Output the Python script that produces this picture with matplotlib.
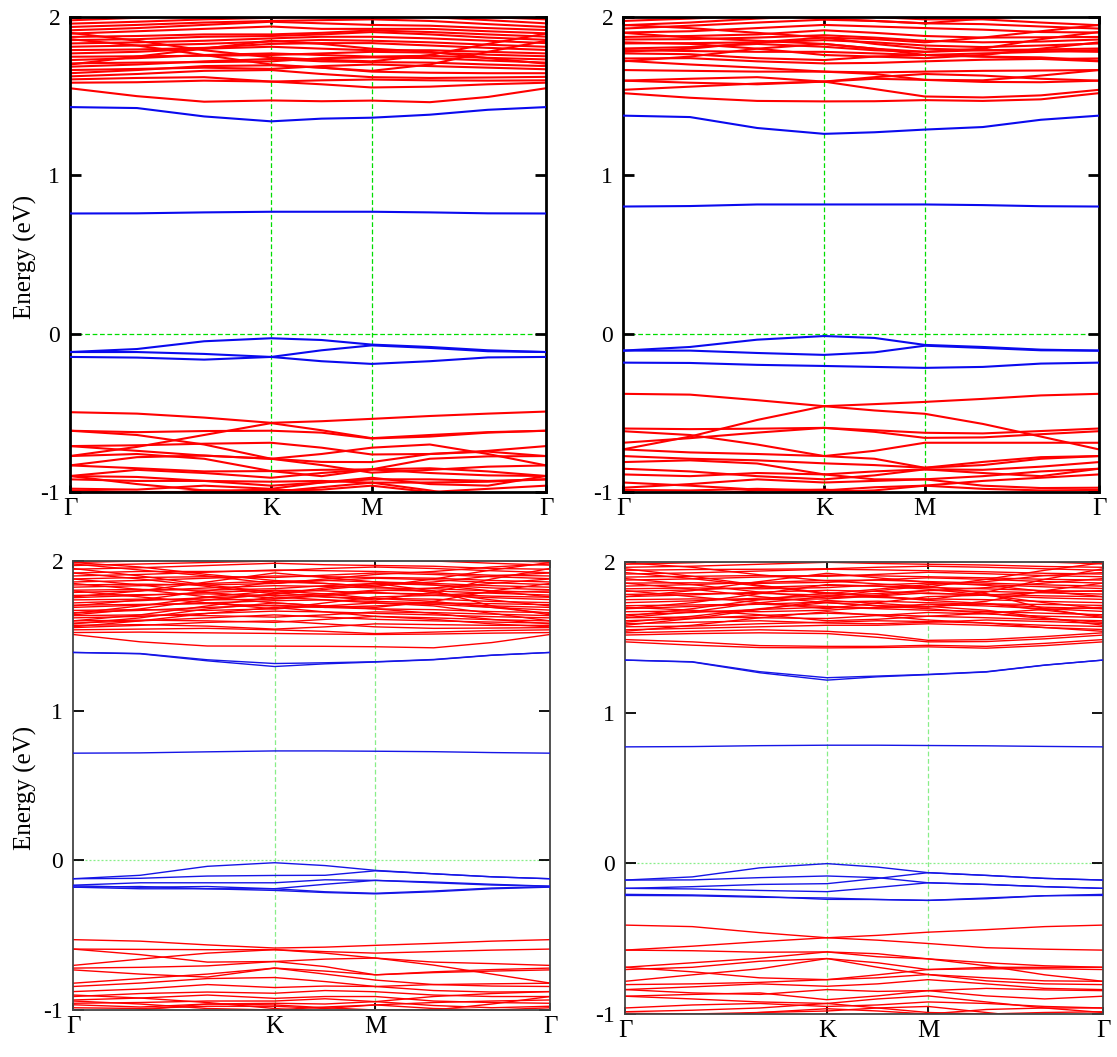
"""Band structures of four configurations along Γ-K-M-Γ (2x2 panels)."""
import matplotlib
matplotlib.use("Agg")
import matplotlib.pyplot as plt

# k-path sampling: Γ, 1/3 ΓK, 2/3 ΓK, K, 1/2 KM, M, 1/3 MΓ, 2/3 MΓ, Γ
K_PATH = [0.0, 0.444, 0.889, 1.333, 1.667, 2.0, 2.385, 2.770, 3.155]
HSYM_POS = [0.0, 1.333, 2.0, 3.155]
HSYM_LAB = ["Γ", "K", "M", "Γ"]
YTICKS = [-1, 0, 1, 2]

# ---------------- panel (a) top-left ----------------
TL_BLUE = [
    [1.431, 1.425, 1.372, 1.341, 1.358, 1.364, 1.383, 1.414, 1.431],
    [0.759, 0.760, 0.766, 0.770, 0.770, 0.770, 0.766, 0.760, 0.759],
    [-0.116, -0.097, -0.048, -0.029, -0.040, -0.069, -0.084, -0.105, -0.116],
    [-0.116, -0.116, -0.128, -0.147, -0.105, -0.074, -0.090, -0.111, -0.116],
    [-0.147, -0.151, -0.164, -0.147, -0.174, -0.191, -0.174, -0.150, -0.147],
]
TL_RED = [
    [1.550, 1.500, 1.465, 1.473, 1.468, 1.472, 1.462, 1.495, 1.550],
    [1.585, 1.588, 1.598, 1.592, 1.575, 1.555, 1.560, 1.575, 1.585],
    [1.606, 1.615, 1.620, 1.592, 1.600, 1.605, 1.600, 1.598, 1.600],
    [1.625, 1.640, 1.660, 1.665, 1.640, 1.620, 1.615, 1.618, 1.622],
    [1.645, 1.665, 1.690, 1.695, 1.680, 1.655, 1.648, 1.645, 1.645],
    [1.665, 1.672, 1.680, 1.672, 1.690, 1.700, 1.690, 1.680, 1.670],
    [1.686, 1.700, 1.720, 1.735, 1.720, 1.715, 1.712, 1.700, 1.690],
    [1.707, 1.712, 1.715, 1.720, 1.740, 1.745, 1.740, 1.725, 1.712],
    [1.728, 1.740, 1.760, 1.770, 1.760, 1.750, 1.755, 1.742, 1.732],
    [1.749, 1.752, 1.755, 1.760, 1.770, 1.780, 1.775, 1.762, 1.752],
    [1.770, 1.780, 1.800, 1.812, 1.800, 1.790, 1.790, 1.780, 1.770],
    [1.791, 1.795, 1.805, 1.830, 1.835, 1.835, 1.820, 1.805, 1.792],
    [1.812, 1.820, 1.830, 1.845, 1.855, 1.850, 1.840, 1.825, 1.812],
    [1.833, 1.840, 1.850, 1.865, 1.875, 1.875, 1.865, 1.850, 1.835],
    [1.854, 1.860, 1.875, 1.880, 1.890, 1.905, 1.890, 1.870, 1.856],
    [1.874, 1.880, 1.890, 1.890, 1.900, 1.915, 1.905, 1.890, 1.876],
    [1.895, 1.910, 1.925, 1.940, 1.925, 1.925, 1.925, 1.910, 1.897],
    [1.916, 1.930, 1.950, 1.970, 1.960, 1.950, 1.945, 1.930, 1.918],
    [1.937, 1.950, 1.965, 1.975, 1.980, 1.985, 1.975, 1.955, 1.937],
    [1.958, 1.970, 1.985, 1.995, 2.005, 2.010, 2.000, 1.980, 1.960],
    [1.979, 1.995, 2.010, 2.020, 2.020, 2.030, 2.020, 2.000, 1.985],
    [1.900, 1.850, 1.790, 1.745, 1.730, 1.720, 1.760, 1.830, 1.895],
    [1.860, 1.820, 1.760, 1.700, 1.680, 1.660, 1.700, 1.780, 1.850],
    [1.700, 1.750, 1.800, 1.850, 1.830, 1.800, 1.780, 1.740, 1.705],
    # valence side
    [-0.496, -0.505, -0.530, -0.563, -0.553, -0.538, -0.520, -0.505, -0.492],
    [-0.773, -0.715, -0.640, -0.565, -0.610, -0.660, -0.640, -0.622, -0.613],
    [-0.613, -0.622, -0.615, -0.613, -0.625, -0.662, -0.650, -0.625, -0.613],
    [-0.613, -0.640, -0.700, -0.790, -0.760, -0.720, -0.700, -0.760, -0.832],
    [-0.710, -0.705, -0.695, -0.689, -0.720, -0.763, -0.760, -0.740, -0.710],
    [-0.710, -0.740, -0.770, -0.790, -0.810, -0.811, -0.760, -0.745, -0.773],
    [-0.773, -0.760, -0.790, -0.868, -0.860, -0.857, -0.790, -0.775, -0.773],
    [-0.832, -0.780, -0.770, -0.790, -0.830, -0.878, -0.860, -0.840, -0.832],
    [-0.832, -0.850, -0.870, -0.868, -0.900, -0.857, -0.880, -0.895, -0.899],
    [-0.899, -0.860, -0.880, -0.910, -0.880, -0.857, -0.850, -0.870, -0.899],
    [-0.899, -0.905, -0.930, -0.960, -0.940, -0.920, -0.920, -0.930, -0.920],
    [-0.899, -0.950, -0.990, -1.000, -0.970, -0.941, -0.990, -1.050, -1.000],
    [-0.920, -0.930, -0.930, -0.935, -0.930, -0.941, -0.940, -0.935, -0.920],
    [-0.979, -0.985, -0.960, -0.980, -0.940, -0.910, -0.950, -0.960, -0.899],
    [-0.990, -1.000, -1.000, -0.983, -1.000, -1.020, -1.000, -0.980, -0.960],
    [-1.050, -1.020, -0.990, -0.990, -0.985, -0.960, -1.000, -1.050, -1.060],
]

# ---------------- panel (b) top-right ----------------
TR_BLUE = [
    [1.377, 1.368, 1.299, 1.262, 1.272, 1.289, 1.305, 1.351, 1.377],
    [0.803, 0.806, 0.816, 0.816, 0.816, 0.816, 0.812, 0.805, 0.803],
    [-0.107, -0.084, -0.038, -0.015, -0.027, -0.071, -0.084, -0.101, -0.107],
    [-0.107, -0.107, -0.122, -0.134, -0.118, -0.076, -0.090, -0.105, -0.107],
    [-0.183, -0.185, -0.197, -0.204, -0.210, -0.216, -0.210, -0.189, -0.183],
]
TR_RED = [
    [1.519, 1.490, 1.470, 1.467, 1.468, 1.475, 1.470, 1.480, 1.519],
    [1.540, 1.560, 1.580, 1.592, 1.545, 1.498, 1.492, 1.505, 1.540],
    [1.598, 1.610, 1.620, 1.592, 1.620, 1.640, 1.630, 1.610, 1.598],
    [1.598, 1.585, 1.575, 1.592, 1.610, 1.603, 1.590, 1.588, 1.598],
    [1.665, 1.660, 1.655, 1.655, 1.650, 1.655, 1.660, 1.662, 1.665],
    [1.724, 1.700, 1.680, 1.655, 1.640, 1.603, 1.600, 1.630, 1.665],
    [1.738, 1.740, 1.720, 1.707, 1.710, 1.720, 1.730, 1.735, 1.738],
    [1.770, 1.765, 1.740, 1.728, 1.750, 1.760, 1.750, 1.745, 1.724],
    [1.791, 1.785, 1.780, 1.780, 1.770, 1.760, 1.770, 1.780, 1.791],
    [1.801, 1.810, 1.830, 1.812, 1.790, 1.780, 1.790, 1.795, 1.801],
    [1.833, 1.835, 1.840, 1.854, 1.840, 1.820, 1.810, 1.820, 1.833],
    [1.858, 1.860, 1.870, 1.885, 1.870, 1.850, 1.840, 1.845, 1.858],
    [1.874, 1.880, 1.890, 1.916, 1.900, 1.880, 1.870, 1.872, 1.874],
    [1.902, 1.910, 1.930, 1.950, 1.940, 1.930, 1.920, 1.905, 1.902],
    [1.927, 1.945, 1.965, 1.983, 1.975, 1.960, 1.955, 1.940, 1.927],
    [1.948, 1.965, 1.990, 2.010, 2.000, 1.985, 1.985, 1.965, 1.948],
    [1.780, 1.800, 1.840, 1.870, 1.830, 1.800, 1.790, 1.785, 1.780],
    [1.720, 1.750, 1.800, 1.830, 1.800, 1.760, 1.750, 1.735, 1.720],
    [1.900, 1.870, 1.850, 1.830, 1.800, 1.780, 1.800, 1.860, 1.905],
    [1.950, 1.930, 1.900, 1.870, 1.860, 1.840, 1.870, 1.910, 1.950],
    [1.975, 1.990, 2.010, 1.990, 1.975, 1.960, 1.990, 2.010, 2.000],
    [1.840, 1.830, 1.800, 1.760, 1.750, 1.740, 1.760, 1.800, 1.840],
    # valence side
    [-0.380, -0.385, -0.420, -0.458, -0.445, -0.431, -0.412, -0.390, -0.380],
    [-0.731, -0.650, -0.545, -0.458, -0.485, -0.506, -0.570, -0.650, -0.731],
    [-0.599, -0.603, -0.600, -0.595, -0.610, -0.626, -0.630, -0.615, -0.599],
    [-0.616, -0.640, -0.700, -0.773, -0.740, -0.689, -0.689, -0.689, -0.689],
    [-0.689, -0.660, -0.625, -0.595, -0.620, -0.658, -0.655, -0.635, -0.616],
    [-0.731, -0.750, -0.760, -0.773, -0.790, -0.847, -0.830, -0.790, -0.773],
    [-0.773, -0.790, -0.800, -0.819, -0.830, -0.847, -0.810, -0.780, -0.773],
    [-0.811, -0.800, -0.820, -0.889, -0.870, -0.857, -0.860, -0.840, -0.811],
    [-0.853, -0.870, -0.900, -0.920, -0.895, -0.857, -0.880, -0.900, -0.853],
    [-0.889, -0.900, -0.880, -0.889, -0.920, -0.920, -0.960, -0.975, -0.973],
    [-0.973, -0.950, -0.920, -0.940, -0.930, -0.920, -0.900, -0.870, -0.853],
    [-0.987, -0.990, -0.980, -0.990, -0.970, -0.960, -0.980, -0.990, -0.987],
    [-1.050, -1.020, -0.990, -0.985, -1.000, -1.030, -1.060, -1.050, -1.040],
    [-0.940, -0.960, -0.985, -1.000, -0.990, -0.960, -0.930, -0.910, -0.889],
]

# ---------------- panel (c) bottom-left ----------------
BL_BLUE = [
    [1.389, 1.382, 1.340, 1.315, 1.320, 1.327, 1.342, 1.371, 1.389],
    [1.389, 1.380, 1.333, 1.295, 1.313, 1.325, 1.340, 1.370, 1.389],
    [0.716, 0.718, 0.725, 0.731, 0.731, 0.729, 0.726, 0.720, 0.716],
    [-0.123, -0.100, -0.040, -0.016, -0.035, -0.067, -0.090, -0.110, -0.123],
    [-0.123, -0.120, -0.105, -0.101, -0.100, -0.070, -0.090, -0.110, -0.123],
    [-0.166, -0.150, -0.150, -0.150, -0.130, -0.134, -0.145, -0.160, -0.173],
    [-0.170, -0.180, -0.175, -0.190, -0.160, -0.134, -0.150, -0.165, -0.173],
    [-0.179, -0.190, -0.190, -0.201, -0.215, -0.224, -0.210, -0.190, -0.179],
    [-0.179, -0.175, -0.190, -0.190, -0.210, -0.220, -0.205, -0.185, -0.176],
]
BL_RED = [
    [1.509, 1.460, 1.432, 1.431, 1.430, 1.427, 1.420, 1.455, 1.509],
    [1.522, 1.525, 1.520, 1.516, 1.512, 1.509, 1.512, 1.518, 1.522],
    [1.540, 1.545, 1.550, 1.540, 1.530, 1.515, 1.525, 1.535, 1.540],
    [1.555, 1.570, 1.590, 1.600, 1.580, 1.560, 1.550, 1.552, 1.555],
    [1.570, 1.575, 1.565, 1.545, 1.560, 1.580, 1.575, 1.570, 1.570],
    [1.585, 1.600, 1.620, 1.640, 1.625, 1.610, 1.600, 1.592, 1.585],
    [1.600, 1.605, 1.600, 1.590, 1.610, 1.630, 1.620, 1.608, 1.600],
    [1.620, 1.630, 1.650, 1.665, 1.660, 1.650, 1.640, 1.628, 1.620],
    [1.635, 1.640, 1.635, 1.625, 1.640, 1.660, 1.655, 1.645, 1.635],
    [1.655, 1.670, 1.690, 1.705, 1.690, 1.680, 1.675, 1.662, 1.655],
    [1.670, 1.675, 1.670, 1.680, 1.700, 1.720, 1.710, 1.690, 1.672],
    [1.690, 1.705, 1.720, 1.735, 1.740, 1.730, 1.720, 1.700, 1.690],
    [1.705, 1.710, 1.715, 1.700, 1.690, 1.700, 1.720, 1.715, 1.708],
    [1.720, 1.735, 1.755, 1.770, 1.760, 1.750, 1.745, 1.730, 1.722],
    [1.740, 1.745, 1.740, 1.745, 1.770, 1.790, 1.770, 1.755, 1.742],
    [1.755, 1.770, 1.790, 1.805, 1.800, 1.785, 1.780, 1.765, 1.758],
    [1.770, 1.775, 1.780, 1.770, 1.780, 1.805, 1.800, 1.785, 1.772],
    [1.790, 1.800, 1.820, 1.835, 1.830, 1.820, 1.815, 1.800, 1.790],
    [1.805, 1.810, 1.805, 1.815, 1.835, 1.850, 1.840, 1.820, 1.808],
    [1.825, 1.835, 1.850, 1.865, 1.870, 1.860, 1.850, 1.835, 1.825],
    [1.840, 1.845, 1.840, 1.850, 1.870, 1.885, 1.875, 1.855, 1.842],
    [1.860, 1.870, 1.885, 1.900, 1.895, 1.890, 1.885, 1.870, 1.860],
    [1.880, 1.890, 1.895, 1.890, 1.905, 1.920, 1.910, 1.895, 1.882],
    [1.900, 1.910, 1.925, 1.940, 1.935, 1.930, 1.920, 1.905, 1.900],
    [1.920, 1.930, 1.930, 1.935, 1.950, 1.960, 1.950, 1.935, 1.922],
    [1.945, 1.955, 1.970, 1.985, 1.975, 1.970, 1.965, 1.950, 1.945],
    [1.970, 1.980, 1.990, 2.000, 2.010, 2.010, 2.000, 1.985, 1.972],
    [1.990, 2.000, 2.020, 2.030, 2.020, 2.030, 2.020, 2.005, 1.992],
    [1.850, 1.810, 1.760, 1.720, 1.700, 1.690, 1.730, 1.800, 1.850],
    [1.650, 1.700, 1.760, 1.800, 1.780, 1.750, 1.730, 1.690, 1.650],
    [1.950, 1.900, 1.840, 1.790, 1.760, 1.740, 1.790, 1.880, 1.950],
    [1.580, 1.620, 1.680, 1.720, 1.700, 1.680, 1.650, 1.610, 1.580],
    [1.760, 1.800, 1.860, 1.920, 1.890, 1.860, 1.840, 1.800, 1.760],
    [1.990, 1.960, 1.910, 1.870, 1.850, 1.830, 1.880, 1.940, 1.990],
    [1.600, 1.640, 1.700, 1.760, 1.740, 1.720, 1.700, 1.650, 1.600],
    [1.880, 1.840, 1.790, 1.750, 1.770, 1.800, 1.820, 1.850, 1.880],
    [1.700, 1.740, 1.800, 1.860, 1.850, 1.830, 1.790, 1.740, 1.700],
    [1.920, 1.880, 1.830, 1.780, 1.810, 1.840, 1.860, 1.900, 1.920],
    [1.560, 1.600, 1.650, 1.690, 1.660, 1.630, 1.610, 1.580, 1.560],
    [1.800, 1.760, 1.720, 1.680, 1.720, 1.760, 1.770, 1.790, 1.800],
    [1.640, 1.680, 1.740, 1.780, 1.820, 1.850, 1.800, 1.700, 1.640],
    [1.980, 1.940, 1.900, 1.850, 1.880, 1.910, 1.930, 1.960, 1.980],
    # valence side
    [-0.530, -0.540, -0.565, -0.586, -0.580, -0.568, -0.555, -0.540, -0.530],
    [-0.593, -0.595, -0.597, -0.597, -0.610, -0.620, -0.610, -0.600, -0.593],
    [-0.702, -0.660, -0.620, -0.597, -0.620, -0.653, -0.680, -0.690, -0.702],
    [-0.593, -0.630, -0.680, -0.676, -0.660, -0.653, -0.700, -0.760, -0.820],
    [-0.720, -0.715, -0.705, -0.676, -0.710, -0.765, -0.745, -0.730, -0.720],
    [-0.732, -0.760, -0.780, -0.720, -0.740, -0.765, -0.750, -0.740, -0.732],
    [-0.821, -0.790, -0.760, -0.720, -0.760, -0.800, -0.830, -0.840, -0.843],
    [-0.843, -0.820, -0.790, -0.783, -0.810, -0.843, -0.830, -0.825, -0.821],
    [-0.877, -0.860, -0.830, -0.850, -0.840, -0.843, -0.870, -0.880, -0.877],
    [-0.910, -0.890, -0.880, -0.888, -0.870, -0.878, -0.900, -0.910, -0.910],
    [-0.933, -0.920, -0.900, -0.922, -0.910, -0.910, -0.940, -0.950, -0.955],
    [-0.955, -0.950, -0.940, -0.940, -0.925, -0.944, -0.910, -0.890, -0.877],
    [-0.965, -0.980, -0.960, -0.955, -0.960, -0.944, -0.970, -0.985, -0.975],
    [-0.985, -0.990, -0.975, -0.975, -0.990, -0.966, -0.990, -1.000, -0.985],
    [-1.050, -1.000, -0.960, -0.966, -0.985, -1.000, -1.000, -1.030, -1.050],
    [-0.940, -0.960, -0.990, -1.000, -0.980, -0.966, -0.950, -0.940, -0.933],
    [-0.900, -0.920, -0.950, -0.990, -1.010, -1.020, -1.000, -0.960, -0.910],
]

# ---------------- panel (d) bottom-right ----------------
BR_BLUE = [
    [1.349, 1.338, 1.272, 1.232, 1.243, 1.254, 1.272, 1.316, 1.349],
    [1.349, 1.336, 1.265, 1.216, 1.238, 1.252, 1.270, 1.315, 1.349],
    [0.773, 0.775, 0.781, 0.784, 0.784, 0.782, 0.780, 0.776, 0.773],
    [-0.111, -0.090, -0.030, -0.002, -0.025, -0.062, -0.080, -0.100, -0.111],
    [-0.111, -0.110, -0.095, -0.084, -0.095, -0.129, -0.140, -0.155, -0.166],
    [-0.166, -0.155, -0.140, -0.135, -0.100, -0.062, -0.080, -0.100, -0.111],
    [-0.166, -0.170, -0.180, -0.188, -0.160, -0.129, -0.140, -0.155, -0.166],
    [-0.206, -0.210, -0.220, -0.239, -0.240, -0.246, -0.235, -0.215, -0.206],
    [-0.213, -0.215, -0.225, -0.230, -0.240, -0.246, -0.230, -0.215, -0.213],
]
BR_RED = [
    [1.470, 1.448, 1.432, 1.430, 1.432, 1.437, 1.428, 1.445, 1.470],
    [1.485, 1.470, 1.445, 1.440, 1.440, 1.447, 1.440, 1.460, 1.485],
    [1.515, 1.525, 1.530, 1.525, 1.500, 1.470, 1.472, 1.490, 1.515],
    [1.530, 1.540, 1.550, 1.540, 1.520, 1.480, 1.485, 1.505, 1.530],
    [1.550, 1.560, 1.570, 1.580, 1.580, 1.590, 1.580, 1.565, 1.552],
    [1.570, 1.575, 1.590, 1.600, 1.610, 1.605, 1.595, 1.580, 1.572],
    [1.590, 1.600, 1.610, 1.595, 1.590, 1.600, 1.615, 1.605, 1.592],
    [1.610, 1.625, 1.645, 1.660, 1.650, 1.640, 1.630, 1.618, 1.610],
    [1.630, 1.635, 1.630, 1.625, 1.645, 1.665, 1.655, 1.640, 1.632],
    [1.650, 1.665, 1.685, 1.700, 1.690, 1.680, 1.672, 1.660, 1.650],
    [1.670, 1.675, 1.670, 1.680, 1.700, 1.720, 1.708, 1.690, 1.672],
    [1.690, 1.705, 1.720, 1.735, 1.740, 1.730, 1.720, 1.700, 1.690],
    [1.710, 1.715, 1.720, 1.705, 1.695, 1.705, 1.722, 1.718, 1.712],
    [1.730, 1.742, 1.760, 1.775, 1.765, 1.755, 1.750, 1.738, 1.730],
    [1.750, 1.755, 1.750, 1.755, 1.775, 1.795, 1.778, 1.762, 1.752],
    [1.770, 1.782, 1.800, 1.812, 1.805, 1.790, 1.785, 1.775, 1.770],
    [1.785, 1.790, 1.792, 1.780, 1.790, 1.812, 1.805, 1.795, 1.787],
    [1.805, 1.815, 1.832, 1.845, 1.840, 1.830, 1.822, 1.810, 1.805],
    [1.822, 1.828, 1.822, 1.830, 1.848, 1.860, 1.850, 1.835, 1.824],
    [1.840, 1.850, 1.865, 1.878, 1.880, 1.870, 1.860, 1.848, 1.840],
    [1.860, 1.862, 1.858, 1.865, 1.882, 1.895, 1.885, 1.870, 1.860],
    [1.880, 1.888, 1.900, 1.912, 1.908, 1.902, 1.895, 1.885, 1.880],
    [1.900, 1.905, 1.910, 1.905, 1.918, 1.932, 1.922, 1.910, 1.902],
    [1.920, 1.928, 1.940, 1.952, 1.948, 1.942, 1.935, 1.925, 1.920],
    [1.945, 1.950, 1.952, 1.955, 1.965, 1.972, 1.965, 1.955, 1.945],
    [1.965, 1.972, 1.985, 1.998, 1.990, 1.985, 1.980, 1.970, 1.965],
    [1.985, 1.995, 2.010, 2.020, 2.020, 2.025, 2.015, 2.000, 1.987],
    [1.860, 1.820, 1.770, 1.730, 1.710, 1.700, 1.740, 1.810, 1.860],
    [1.640, 1.690, 1.750, 1.795, 1.775, 1.745, 1.725, 1.680, 1.640],
    [1.955, 1.905, 1.845, 1.795, 1.770, 1.750, 1.800, 1.885, 1.955],
    [1.600, 1.640, 1.690, 1.730, 1.710, 1.690, 1.660, 1.625, 1.600],
    [1.770, 1.810, 1.870, 1.925, 1.895, 1.865, 1.845, 1.805, 1.770],
    [1.995, 1.965, 1.915, 1.875, 1.855, 1.835, 1.885, 1.945, 1.995],
    [1.700, 1.680, 1.650, 1.610, 1.620, 1.640, 1.660, 1.685, 1.700],
    [1.580, 1.625, 1.685, 1.745, 1.725, 1.705, 1.680, 1.630, 1.580],
    [1.890, 1.850, 1.800, 1.760, 1.780, 1.810, 1.830, 1.860, 1.890],
    [1.690, 1.730, 1.790, 1.850, 1.840, 1.820, 1.780, 1.730, 1.690],
    [1.930, 1.890, 1.840, 1.790, 1.820, 1.850, 1.870, 1.910, 1.930],
    [1.540, 1.580, 1.630, 1.670, 1.645, 1.615, 1.595, 1.565, 1.540],
    [1.810, 1.770, 1.730, 1.690, 1.730, 1.770, 1.780, 1.800, 1.810],
    [1.630, 1.670, 1.730, 1.770, 1.810, 1.840, 1.790, 1.690, 1.630],
    # valence side
    [-0.410, -0.420, -0.460, -0.494, -0.478, -0.457, -0.440, -0.420, -0.410],
    [-0.576, -0.550, -0.520, -0.494, -0.510, -0.532, -0.560, -0.570, -0.576],
    [-0.576, -0.580, -0.590, -0.588, -0.620, -0.634, -0.680, -0.740, -0.783],
    [-0.690, -0.660, -0.630, -0.588, -0.600, -0.634, -0.660, -0.680, -0.690],
    [-0.705, -0.690, -0.650, -0.632, -0.660, -0.705, -0.700, -0.700, -0.705],
    [-0.783, -0.740, -0.700, -0.632, -0.690, -0.738, -0.760, -0.780, -0.783],
    [-0.690, -0.720, -0.760, -0.772, -0.740, -0.705, -0.690, -0.690, -0.690],
    [-0.805, -0.800, -0.790, -0.772, -0.760, -0.738, -0.780, -0.800, -0.805],
    [-0.838, -0.820, -0.800, -0.816, -0.800, -0.772, -0.800, -0.830, -0.838],
    [-0.838, -0.860, -0.870, -0.838, -0.850, -0.845, -0.830, -0.840, -0.845],
    [-0.882, -0.870, -0.860, -0.905, -0.880, -0.845, -0.880, -0.900, -0.882],
    [-0.882, -0.900, -0.920, -0.930, -0.900, -0.880, -0.920, -0.960, -0.990],
    [-0.960, -0.940, -0.930, -0.950, -0.940, -0.920, -0.930, -0.950, -0.960],
    [-0.985, -0.975, -0.960, -0.930, -0.960, -0.990, -1.000, -0.990, -0.985],
    [-0.995, -1.000, -0.990, -0.965, -0.980, -1.000, -0.970, -0.960, -0.960],
    [-1.050, -1.020, -0.990, -0.980, -0.960, -0.950, -0.990, -1.030, -1.050],
]

W, H = 1117, 1057
# axes boxes in pixels: left, top, right, bottom
PANELS = [
    dict(box=(70, 17, 546, 492), red=TL_RED, blue=TL_BLUE, style="top", ylabel=True),
    dict(box=(623, 17, 1099, 492), red=TR_RED, blue=TR_BLUE, style="top", ylabel=False),
    dict(box=(73, 561, 550, 1010), red=BL_RED, blue=BL_BLUE, style="bottom", ylabel=True),
    dict(box=(625, 562, 1103, 1014), red=BR_RED, blue=BR_BLUE, style="bottom", ylabel=False),
]
STYLES = {
    "top": dict(lw=1.5, spine_lw=2.0, spine_c="black", green="#00dd00", glw=0.9,
                hls=(0, (3.8, 2.1)), blue="#0a0aee"),
    "bottom": dict(lw=1.0, spine_lw=1.3, spine_c="#444444", green="#88ee88", glw=0.9,
                   hls=(0, (1.6, 1.6)), blue="#1515e6"),
}

SERIF = ["Liberation Serif", "DejaVu Serif"]

fig = plt.figure(figsize=(W / 100, H / 100), dpi=100)
for p in PANELS:
    l, t, r, b = p["box"]
    st = STYLES[p["style"]]
    ax = fig.add_axes([l / W, 1 - b / H, (r - l) / W, (b - t) / H])
    for band in p["red"]:
        ax.plot(K_PATH, band, color="#ff0000", lw=st["lw"], zorder=2)
    for band in p["blue"]:
        ax.plot(K_PATH, band, color=st["blue"], lw=st["lw"], zorder=3)
    for xk in HSYM_POS[1:3]:
        ax.axvline(xk, color=st["green"], lw=st["glw"], ls=(0, (3.8, 2.1)), zorder=1)
    ax.axhline(0, color=st["green"], lw=st["glw"], ls=st["hls"], zorder=1)

    ax.set_xlim(HSYM_POS[0], HSYM_POS[-1])
    ax.set_ylim(-1, 2)
    ax.set_yticks(YTICKS)
    ax.set_yticklabels([str(v) for v in YTICKS], family=SERIF, fontsize=17)
    ax.set_xticks(HSYM_POS)
    ax.set_xticklabels(HSYM_LAB, family=SERIF, fontsize=18)
    ax.tick_params(axis="y", direction="in", length=8, width=st["spine_lw"],
                   right=True, pad=7)
    ax.tick_params(axis="x", direction="in", length=5, width=st["spine_lw"],
                   top=True, pad=4)
    for s in ax.spines.values():
        s.set_linewidth(st["spine_lw"])
        s.set_color(st["spine_c"])
    if p["ylabel"]:
        fig.text(25 / W, 1 - ((t + b) / 2 + 2) / H, "Energy (eV)", rotation=90,
                 ha="center", va="center", fontsize=18, family=SERIF)

fig.savefig("out.png", dpi=100)
